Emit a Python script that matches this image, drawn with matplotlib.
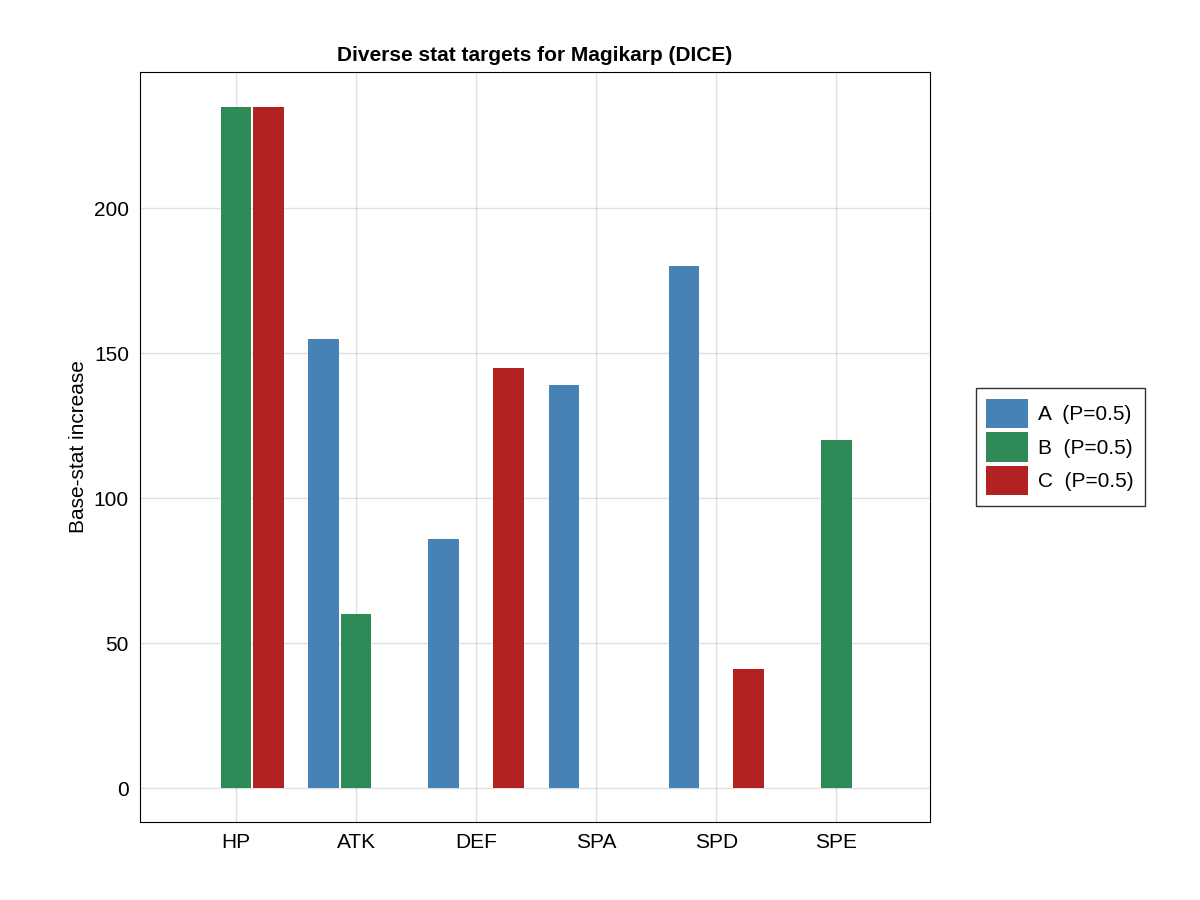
import numpy as np
import matplotlib
matplotlib.use("Agg")
import matplotlib.pyplot as plt

plt.rcParams['font.family'] = ['Liberation Sans', 'DejaVu Sans']

stats = ["HP", "ATK", "DEF", "SPA", "SPD", "SPE"]
series_names = ["A  (P=0.5)", "B  (P=0.5)", "C  (P=0.5)"]
series_colors = ["#4682b4", "#2e8b57", "#b22222"]
values_a = [0, 155, 86, 139, 180, 0]
values_b = [235, 60, 0, 0, 0, 120]
values_c = [235, 0, 145, 0, 41, 0]

fig = plt.figure(figsize=(12, 9), dpi=100)
ax = fig.add_axes([140/1200, 78/900, 790/1200, 750/900])

x = np.arange(1, len(stats) + 1)
offsets = [-0.27, 0.0, 0.27]
for vals, off, col, name in zip([values_a, values_b, values_c], offsets, series_colors, series_names):
    ax.bar(x + off, vals, width=0.255, color=col, label=name, zorder=3)

ax.set_xlim(0.2, 6.78)
ax.set_ylim(-11.7, 246.9)
ax.set_xticks(x)
ax.set_xticklabels(stats)
ax.set_yticks([0, 50, 100, 150, 200])
ax.grid(True, color="#000000", alpha=0.12, linewidth=1, zorder=0)
ax.tick_params(labelsize=15, length=0, pad=8)
ax.set_ylabel("Base-stat increase", fontsize=15)
ax.set_title("Diverse stat targets for Magikarp (DICE)", fontsize=15, fontweight="bold", pad=8)

leg = ax.legend(loc="center left", bbox_to_anchor=(1.045, 0.5), fontsize=15, frameon=True,
                fancybox=False, edgecolor="black", handlelength=2.0, handleheight=1.8,
                borderpad=0.5, labelspacing=0.2, handletextpad=0.5)
leg.get_frame().set_linewidth(1)

fig.savefig("out.png", dpi=100)
